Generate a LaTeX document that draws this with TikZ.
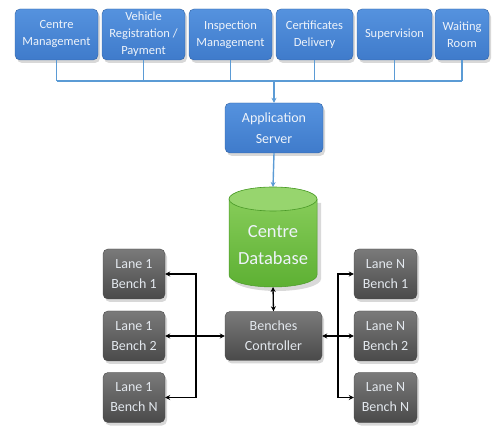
\documentclass[tikz,border=0pt]{standalone}
\usepackage{fontspec}
\setmainfont{Carlito}
\usetikzlibrary{shadows,arrows.meta}
\definecolor{bluebox}{HTML}{3F7BCB}
\definecolor{bluetop}{HTML}{5592DE}
\definecolor{blueline}{HTML}{5B9BD5}
\definecolor{graytop}{HTML}{7A7A7A}
\definecolor{graybot}{HTML}{4A4A4A}
\definecolor{dbgreen}{HTML}{5DB033}
\definecolor{dblight}{HTML}{8CD05E}
\definecolor{dbdark}{HTML}{4A9A28}
\definecolor{txtw}{HTML}{EEF3FA}
\begin{document}
\begin{tikzpicture}[x=1pt,y=1pt,
  topbox/.style={rounded corners=5pt, top color=bluetop, bottom color=bluebox, draw=bluebox!80!black, line width=0.4pt,
    text=txtw, align=center, font=\fontsize{12.5}{17}\selectfont, minimum height=51pt, inner sep=1pt,
    drop shadow={opacity=0.3, shadow xshift=2pt, shadow yshift=-3pt}},
  graybox/.style={rounded corners=5pt, top color=graytop, bottom color=graybot, draw=graybot, line width=0.4pt,
    text=txtw!90!gray, align=center, font=\fontsize{14}{20}\selectfont, minimum height=50pt, inner sep=1pt,
    drop shadow={opacity=0.3, shadow xshift=2pt, shadow yshift=-3pt}},
  busline/.style={draw=blueline, line width=1.4pt},
  blackarrow/.style={draw=black, line width=1.3pt, -{Stealth[length=5pt,width=5pt]}},
  blackdarrow/.style={draw=black, line width=1.3pt, {Stealth[length=5pt,width=5pt]}-{Stealth[length=5pt,width=5pt]}}
]
\useasboundingbox (0,0) rectangle (497,425);
\fill[white] (0,0) rectangle (497,425);

% top boxes
\node[topbox, minimum width=83pt] (b1) at (56.5,390.5) {Centre\\Management};
\node[topbox, minimum width=83pt] (b2) at (143.5,390.5) {Vehicle\\Registration /\\Payment};
\node[topbox, minimum width=83pt] (b3) at (230.5,390.5) {Inspection\\Management};
\node[topbox, minimum width=77pt] (b4) at (314.5,390.5) {Certificates\\Delivery};
\node[topbox, minimum width=75pt] (b5) at (394.5,390.5) {Supervision};
\node[topbox, minimum width=54pt] (b6) at (462,390.5) {Waiting\\Room};

\coordinate (bus) at (273,344);
\draw[busline] (b1.south |- bus) -- (b6.south |- bus);
\foreach \b in {b1,b2,b3,b4,b5,b6} { \draw[busline] (\b.south) -- (\b.south |- bus); }

% application server
\node[topbox, minimum width=98pt, minimum height=50pt, font=\fontsize{14}{21}\selectfont] (app) at (274,297) {Application\\Server};
\draw[busline, -{Stealth[length=5pt,width=5pt]}] (app.north |- bus) -- (app.north);

% database cylinder
\coordinate (dbtop) at (273,238);
\coordinate (dbbot) at (273,138);
\fill[black, opacity=0.15] (233,222) -- (233,146) arc[start angle=180,end angle=360,x radius=44,y radius=12] -- (321,222) -- cycle;
\shade[top color=dblight, bottom color=dbgreen] (229,226) -- (229,150) arc[start angle=180,end angle=360,x radius=44,y radius=12] -- (317,226) arc[start angle=0,end angle=180,x radius=44,y radius=12] -- cycle;
\draw[dbdark, line width=0.5pt] (229,226) -- (229,150) arc[start angle=180,end angle=360,x radius=44,y radius=12] -- (317,226);
\fill[dblight!90!white] (273,226) ellipse[x radius=44, y radius=12];
\draw[dbdark, line width=0.6pt] (273,226) ellipse[x radius=44, y radius=12];
\node[text=txtw, align=center, font=\fontsize{18.5}{27}\selectfont] (dbtext) at (273,180) {Centre\\Database};

\draw[busline, -{Stealth[length=5pt,width=5pt]}] (app.south) -- (dbtop);

% controller and benches
\node[graybox, minimum width=97pt, minimum height=49pt] (ctrl) at (273.5,89) {Benches\\Controller};
\node[graybox, minimum width=62pt] (l1) at (134,151) {Lane 1\\Bench 1};
\node[graybox, minimum width=62pt] (l2) at (134,89) {Lane 1\\Bench 2};
\node[graybox, minimum width=62pt] (l3) at (134,27.5) {Lane 1\\Bench N};
\node[graybox, minimum width=63pt] (r1) at (385.5,151) {Lane N\\Bench 1};
\node[graybox, minimum width=63pt] (r2) at (385.5,89) {Lane N\\Bench 2};
\node[graybox, minimum width=63pt] (r3) at (385.5,27.5) {Lane N\\Bench N};

\draw[blackdarrow] (dbbot) -- (ctrl.north);

\coordinate (lj) at (196,89);
\coordinate (rj) at (338,89);
\draw[blackdarrow] (l2.east) -- (ctrl.west);
\draw[blackarrow] (lj) |- (l1.east);
\draw[blackarrow] (lj) |- (l3.east);
\draw[blackdarrow] (ctrl.east) -- (r2.west);
\draw[blackarrow] (rj) |- (r1.west);
\draw[blackarrow] (rj) |- (r3.west);
\end{tikzpicture}
\end{document}
